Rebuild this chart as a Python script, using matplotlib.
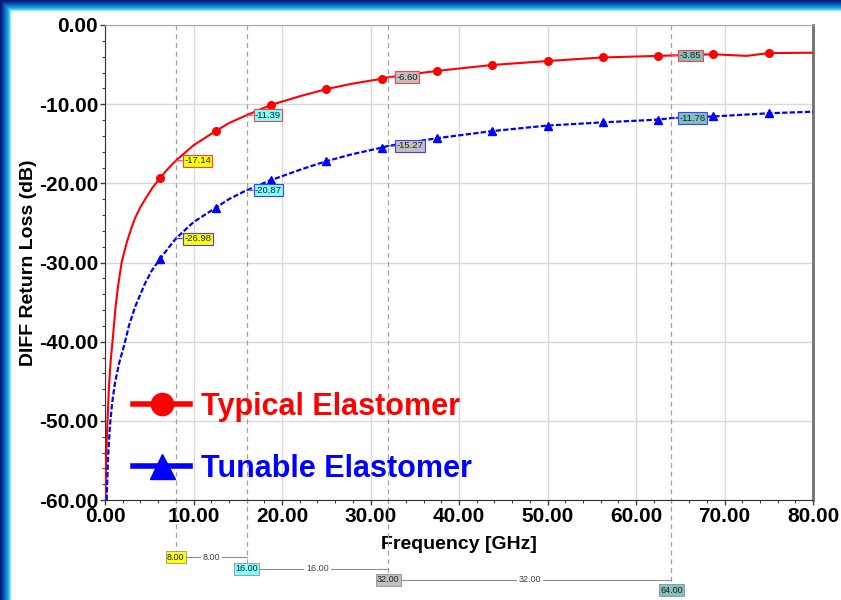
import numpy as np
import matplotlib
matplotlib.use("Agg")
import matplotlib.pyplot as plt
from matplotlib.lines import Line2D
from matplotlib.colors import LinearSegmentedColormap

plt.rcParams["font.family"] = ["Liberation Sans", "DejaVu Sans"]

# ---------------------------------------------------------------------------
# Dados
# ---------------------------------------------------------------------------
freq_typ = [0.05, 0.15, 0.27, 0.45, 0.63, 0.83, 1.2, 1.5, 1.88, 2.45, 3.0, 3.4,
            4.0, 4.6, 5.4, 6.25, 7.0, 8.0, 10.0, 12.5, 14.0, 16.0, 18.75, 22.0,
            25.0, 28.0, 31.25, 32.0, 37.5, 43.75, 50.0, 56.25, 62.5, 64.0,
            68.75, 72.5, 75.0, 80.0]
rl_typ = [-60.0, -54.0, -50.3, -45.6, -42.6, -40.2, -35.6, -32.8, -30.0, -27.5,
          -25.6, -24.4, -23.0, -21.9, -20.5, -19.3, -18.3, -17.14, -15.2, -13.4,
          -12.4, -11.39, -10.1, -9.0, -8.1, -7.4, -6.8, -6.60, -5.8, -5.05,
          -4.55, -4.1, -3.9, -3.85, -3.7, -3.9, -3.55, -3.5]

freq_tun = [0.19, 0.35, 0.56, 0.8, 1.13, 1.6, 2.18, 2.7, 3.4, 4.5, 5.3, 6.25,
            7.0, 8.0, 10.0, 12.5, 14.0, 16.0, 18.75, 22.0, 25.0, 28.0, 31.25,
            32.0, 37.5, 43.75, 50.0, 56.25, 62.5, 64.0, 68.75, 75.0, 80.0]
rl_tun = [-60.0, -54.5, -50.6, -47.8, -45.2, -42.7, -40.4, -38.0, -35.6, -32.7,
          -31.0, -29.5, -28.4, -26.98, -24.9, -23.1, -22.0, -20.87, -19.6,
          -18.3, -17.2, -16.3, -15.5, -15.27, -14.3, -13.4, -12.7, -12.3,
          -11.95, -11.76, -11.55, -11.15, -10.95]

simbolos_freq = [6.25, 12.5, 18.75, 25.0, 31.25, 37.5, 43.75, 50.0, 56.25,
                 62.5, 68.75, 75.0]

marcadores_freq = [8.0, 16.0, 32.0, 64.0]
marcadores_typ = [-17.14, -11.39, -6.60, -3.85]
marcadores_tun = [-26.98, -20.87, -15.27, -11.76]
marcadores_cor = ["#ffff00", "#80ffff", "#c0c0c0", "#80c0c0"]
marcadores_y = [-0.120, -0.145, -0.168, -0.190]   # posição das etiquetas (fração do eixo)

legendas = ["Typical Elastomer", "Tunable Elastomer"]

# ---------------------------------------------------------------------------
fig = plt.figure(figsize=(8.41, 6.00), dpi=100, facecolor="white")

# Moldura azul (somente topo e esquerda)
H, W, borda = 600, 841, 11
lin, col = np.mgrid[0:H, 0:W]
d = np.minimum(lin, col).astype(float)
cmap_borda = LinearSegmentedColormap.from_list(
    "borda", ["#08187a", "#0a3a9e", "#0d78c4", "#12aad8", "#8fe0f4"])
img = np.ones((H, W, 4))
mask = d < borda
img[mask] = cmap_borda(d[mask] / (borda - 1))
img[:, -4:, :3] = np.where(mask[:, -4:, None], img[:, -4:, :3], 1.0)
img[-4:, :, :3] = np.where(mask[-4:, :, None], img[-4:, :, :3], 1.0)
fig.figimage(img, xo=0, yo=0, origin="upper", zorder=0, resample=False)

ax = fig.add_axes([105 / 841, 1 - 500 / 600, 708 / 841, 475 / 600], zorder=1)
ax.set_facecolor("white")

idx_typ = [i for i, f in enumerate(freq_typ) if f in simbolos_freq]
idx_tun = [i for i, f in enumerate(freq_tun) if f in simbolos_freq]

ax.plot(freq_typ, rl_typ, color="#ff0000", lw=1.5, marker="o", ms=5.5,
        markevery=idx_typ, zorder=3)
ax.plot(freq_tun, rl_tun, color="#0000ff", lw=1.6, ls=(0, (2.4, 1.0)),
        marker="^", ms=6, markevery=idx_tun, zorder=3)

ax.set_xlim(0, 80)
ax.set_ylim(-60, 0)
ax.set_xticks(np.arange(0, 81, 10))
ax.set_yticks(np.arange(-60, 1, 10))
ax.set_xticks(np.arange(0, 81, 2), minor=True)
ax.set_yticks(np.arange(-60, 1, 2), minor=True)
ax.xaxis.set_major_formatter(matplotlib.ticker.FormatStrFormatter("%.2f"))
ax.yaxis.set_major_formatter(matplotlib.ticker.FormatStrFormatter("%.2f"))
ax.tick_params(which="major", direction="out", length=3.5, width=1, color="#404040",
               labelsize=15, pad=1.5)
ax.tick_params(which="minor", direction="out", length=2.5, width=0.8, color="#404040")
for lbl in ax.get_xticklabels() + ax.get_yticklabels():
    lbl.set_fontweight("bold")

ax.grid(which="major", color="#d9d9d9", lw=1)
ax.set_axisbelow(True)

ax.spines["left"].set_color("#303030")
ax.spines["bottom"].set_color("#303030")
ax.spines["top"].set_color("#a8a8a8")
ax.spines["right"].set_color("#707070")
ax.spines["right"].set_linewidth(2)

ax.set_xlabel("Frequency [GHz]", fontsize=14, fontweight="bold", labelpad=7)
ax.set_ylabel("DIFF Return Loss (dB)", fontsize=14, fontweight="bold", labelpad=1)

# Linhas de marcador (tracejadas) e etiquetas
trans = ax.get_xaxis_transform()
for f, yl, cor in zip(marcadores_freq, marcadores_y, marcadores_cor):
    ax.plot([f, f], [1.0, yl], transform=trans, clip_on=False, color="#a0a0a0",
            lw=0.9, ls=(0, (4, 3)), zorder=2)
    ax.text(f, yl, f"{f:.2f}", transform=trans, ha="center", va="center",
            fontsize=6.5, color="#202020", zorder=6, clip_on=False,
            bbox=dict(boxstyle="square,pad=0.15", fc=cor, ec="#909090", lw=0.6))

for i in range(len(marcadores_freq) - 1):
    f0, f1 = marcadores_freq[i], marcadores_freq[i + 1]
    yl = marcadores_y[i]
    ax.plot([f0, f1], [yl, yl], transform=trans, clip_on=False, color="#909090",
            lw=0.8, zorder=4)
    ax.text((f0 + f1) / 2, yl, f"{f1 - f0:.2f}", transform=trans, ha="center",
            va="center", fontsize=6.5, color="#404040", zorder=5, clip_on=False,
            bbox=dict(boxstyle="square,pad=0.2", fc="white", ec="none"))

# Etiquetas de valor nas curvas
for vals, borda_cor in ((marcadores_typ, "#ff4040"), (marcadores_tun, "#4040ff")):
    for f, v, cor in zip(marcadores_freq, vals, marcadores_cor):
        ax.annotate(f"{v:.2f}", xy=(f, v), xytext=(6, 0), textcoords="offset points",
                    ha="left", va="center", fontsize=6.8, color="#202020", zorder=6,
                    bbox=dict(boxstyle="square,pad=0.15", fc=cor, ec=borda_cor, lw=0.8),
                    arrowprops=dict(arrowstyle="-", color=borda_cor, lw=0.8,
                                    shrinkA=0, shrinkB=0))

# Legenda
handles = [
    Line2D([], [], color="#ff0000", lw=4, marker="o", ms=16),
    Line2D([], [], color="#0000ff", lw=4, marker="^", ms=18),
]
leg = ax.legend(handles, legendas, loc="lower left", bbox_to_anchor=(0.04, 0.034),
                frameon=False, borderpad=0, borderaxespad=0, handlelength=1.85,
                handletextpad=0.35, labelspacing=1.05,
                prop=dict(size=22, weight="bold"))
for txt, cor in zip(leg.get_texts(), ["#ff0000", "#0000ff"]):
    txt.set_color(cor)

plt.savefig("out.png", dpi=100, facecolor="white")
